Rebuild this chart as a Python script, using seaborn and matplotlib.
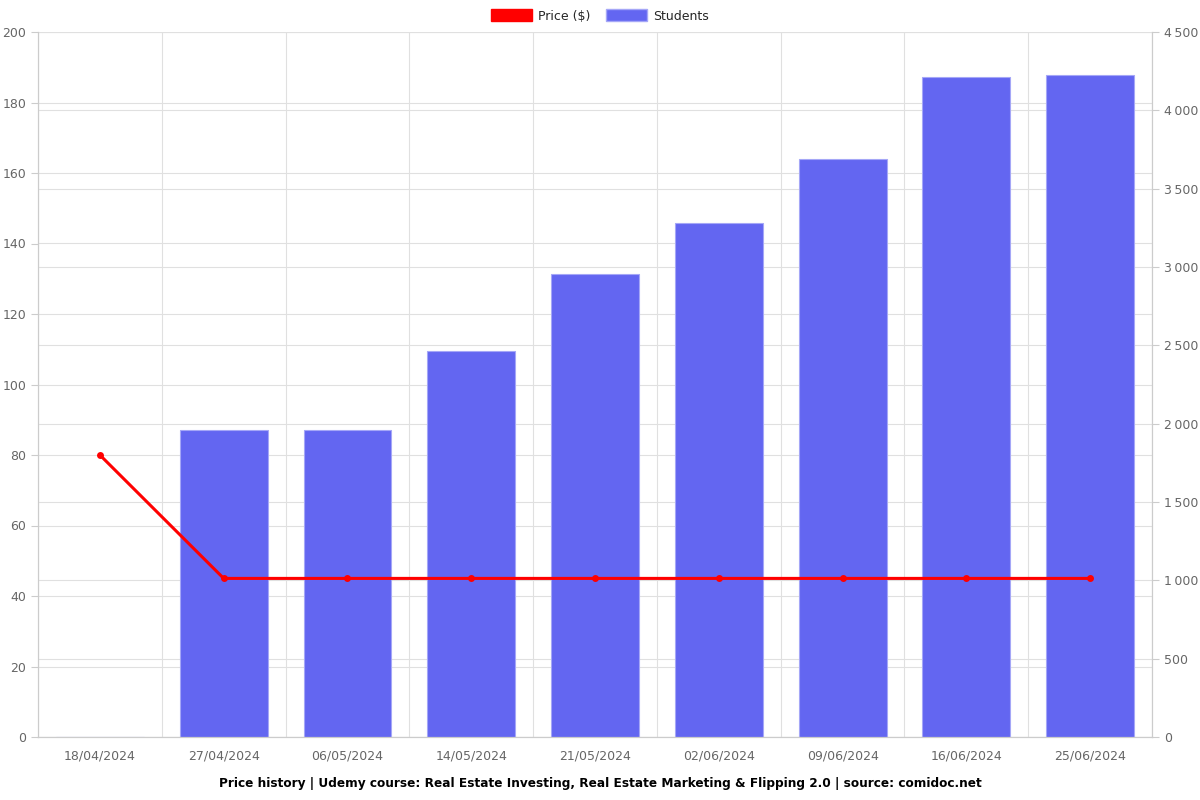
import pandas as pd
import numpy as np
import matplotlib
matplotlib.use('Agg')
import matplotlib.pyplot as plt
from matplotlib.patches import Patch
from matplotlib.ticker import FuncFormatter, FixedLocator
import seaborn as sns

# chart data
dates = ['18/04/2024', '27/04/2024', '06/05/2024', '14/05/2024', '21/05/2024',
         '02/06/2024', '09/06/2024', '16/06/2024', '25/06/2024']
price = [79.99, 44.99, 44.99, 44.99, 44.99, 44.99, 44.99, 44.99, 44.99]
students = [0, 1960, 1960, 2464, 2957, 3282, 3690, 4213, 4228]

df = pd.DataFrame({'date': dates, 'price': price, 'students': students})

sns.set_style('white')
plt.rcParams['font.family'] = ['DejaVu Sans']

bar_color = '#6366F1'
line_color = '#FF0000'
grid_color = '#e0e0e0'
tick_color = '#666666'

fig = plt.figure(figsize=(12, 8), dpi=100)
ax = fig.add_axes([0.0317, 0.07875, 0.9283, 0.88125])  # students (drawn first, behind)
ax2 = ax.twinx()  # price

# bars on the primary axes, shown on the right
sns.barplot(data=df, x='date', y='students', color=bar_color, width=0.71,
            edgecolor='#a5a7f7', linewidth=0.8, saturation=1, ax=ax, zorder=2)
ax.set_ylim(0, 4500)
ax.yaxis.tick_right()
ax.yaxis.set_label_position('right')
ax.set_yticks(np.arange(0, 4501, 500))
ax.yaxis.set_major_formatter(FuncFormatter(lambda v, p: f'{v:,.0f}'.replace(',', '\u2009')))

# grid lines of both scales sit behind the bars
ax.grid(axis='y', color=grid_color, linewidth=0.8, zorder=0)
for t in np.arange(0, 201, 20):
    ax.axhline(t * 4500 / 200, color=grid_color, linewidth=0.8, zorder=0)
ax.set_xlim(-0.5, len(dates) - 0.5)
ax.xaxis.set_minor_locator(FixedLocator(np.arange(-0.5, len(dates), 1)))
ax.grid(axis='x', which='minor', color=grid_color, linewidth=0.8, zorder=0)
ax.tick_params(axis='x', which='major', length=0, pad=9)
ax.tick_params(axis='x', which='minor', length=5, color='#cccccc')
ax.set_axisbelow(True)

# price line
sns.lineplot(data=df, x='date', y='price', color=line_color, linewidth=2.2,
             marker='o', markersize=5, markeredgewidth=0, ax=ax2, zorder=5, sort=False)
ax2.set_ylim(0, 200)
ax2.yaxis.tick_left()
ax2.yaxis.set_label_position('left')
ax2.set_yticks(np.arange(0, 201, 20))
ax2.grid(False)

for a in (ax, ax2):
    a.set_xlabel('')
    a.set_ylabel('')
    a.tick_params(axis='y', length=5, color='#cccccc', labelcolor=tick_color, labelsize=9)
    a.tick_params(axis='x', labelcolor=tick_color, labelsize=9)
    for side in ['left', 'right', 'bottom']:
        a.spines[side].set_color('#cccccc')
    a.spines['top'].set_visible(False)

handles = [Patch(facecolor=line_color, edgecolor=line_color, label='Price ($)'),
           Patch(facecolor=bar_color, edgecolor='#a5a7f7', label='Students')]
fig.legend(handles=handles, loc='center', bbox_to_anchor=(0.5, 1 - 16 / 800), ncol=2,
           frameon=False, fontsize=9, handlelength=3.3, handleheight=1.1,
           columnspacing=1.2, handletextpad=0.5)

fig.text(0.5, 1 - 783 / 800, 'Price history | Udemy course: Real Estate Investing, Real Estate Marketing & Flipping 2.0 | source: comidoc.net',
         ha='center', va='center', fontsize=8.7, fontweight='bold', color='black')

fig.savefig('out.png', dpi=100)
